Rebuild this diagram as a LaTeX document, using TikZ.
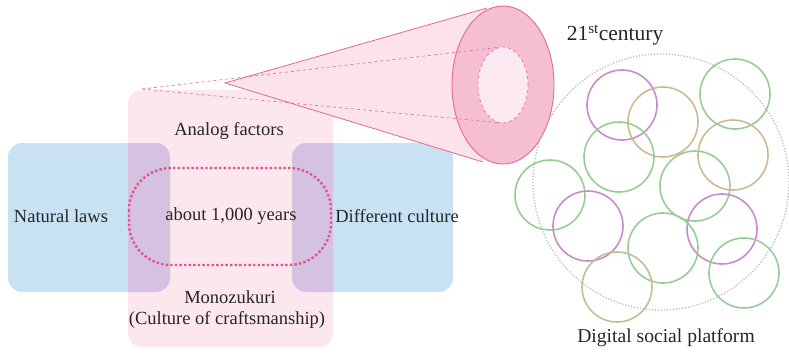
\documentclass[tikz,border=0pt]{standalone}
\usepackage{fontspec}
\setmainfont{Liberation Serif}
\definecolor{bluebox}{RGB}{200,225,243}
\definecolor{pinkbox}{RGB}{252,231,238}
\definecolor{overlap}{RGB}{213,194,225}
\definecolor{conefill}{RGB}{251,226,235}
\definecolor{ringfill}{RGB}{246,190,210}
\definecolor{innerfill}{RGB}{252,232,240}
\definecolor{pinkline}{RGB}{228,105,145}
\definecolor{dotpink}{RGB}{232,80,140}
\definecolor{cgreen}{RGB}{150,205,150}
\definecolor{cpurple}{RGB}{200,140,200}
\definecolor{ctan}{RGB}{205,185,145}
\definecolor{cgray}{RGB}{185,185,185}
\begin{document}
\begin{tikzpicture}[x=1pt,y=-1pt,
  lbl/.style={font=\fontsize{18.5}{22}\selectfont,text=black!85,inner sep=0pt},
  biglbl/.style={font=\fontsize{19.6}{24}\selectfont,text=black!85,inner sep=0pt},
  ring/.style={line width=1.6pt},
  conedash/.style={pinkline,dashed,line width=0.6pt}]
\useasboundingbox (0,0) rectangle (789,353);
% boxes
\fill[bluebox,rounded corners=14pt] (8,143) rectangle (170,292);
\fill[bluebox,rounded corners=14pt] (292,143) rectangle (453,292);
\fill[pinkbox,rounded corners=13pt] (128,90) rectangle (333,347);
\begin{scope}
  \clip[rounded corners=13pt] (128,90) rectangle (333,347);
  \fill[overlap,rounded corners=14pt] (8,143) rectangle (170,292);
  \fill[overlap,rounded corners=14pt] (292,143) rectangle (453,292);
\end{scope}
\draw[dotpink,line width=2.4pt,dash pattern=on 2.4pt off 2.2pt,rounded corners=42pt] (129,168) rectangle (331,265);
% cone
\coordinate (apex) at (225,83);
\coordinate (ttop) at (487,8);
\coordinate (tbot) at (483,162);
\coordinate (src) at (142,89);
\coordinate (itop) at (497,47.5);
\coordinate (ibot) at (497,122.5);
\fill[conefill] (apex) -- (ttop) -- (503,85) -- (tbot) -- cycle;
\draw[pinkline,line width=0.8pt] (ttop) -- (apex) -- (tbot);
\filldraw[fill=ringfill,draw=pinkline,line width=0.9pt] (503,85) ellipse (51pt and 79pt);
\filldraw[fill=innerfill,draw=pinkline,dashed,line width=0.6pt] (503,85) ellipse (25pt and 38pt);
\draw[conedash] (src) -- (itop);
\draw[conedash] (src) -- (ibot);
% labels left
\node[lbl] (analog) at (229,131) {Analog factors};
\node[lbl] (natural) at (61,216) {Natural laws};
\node[lbl] (years) at (231,216) {about 1,000 years};
\node[lbl] (diff) at (397,216) {Different culture};
\node[lbl] (mono) at (230,297) {Monozukuri};
\node[lbl] (craft) at (227,320) {(Culture of craftsmanship)};
% platform
\draw[cgray,line width=1.3pt,dash pattern=on 1.2pt off 1.8pt] (661,182) circle (128pt);
\draw[ring,cpurple] (622,105) circle (35pt);
\draw[ring,ctan] (663,122) circle (35pt);
\draw[ring,cgreen] (735,94) circle (35pt);
\draw[ring,cgreen] (619,157) circle (35pt);
\draw[ring,ctan] (733,155) circle (35pt);
\draw[ring,cgreen] (550,195) circle (35pt);
\draw[ring,cgreen] (695,186) circle (35pt);
\draw[ring,cpurple] (588,226) circle (35pt);
\draw[ring,cpurple] (722,229) circle (35pt);
\draw[ring,cgreen] (663,248) circle (35pt);
\draw[ring,ctan] (617,287) circle (35pt);
\draw[ring,cgreen] (744,273) circle (35pt);
\node[biglbl,font=\fontsize{21.5}{25}\selectfont] (century) at (615,35) {21\textsuperscript{st}century};
\node[biglbl] (digital) at (666,338) {Digital social platform};
\end{tikzpicture}
\end{document}
